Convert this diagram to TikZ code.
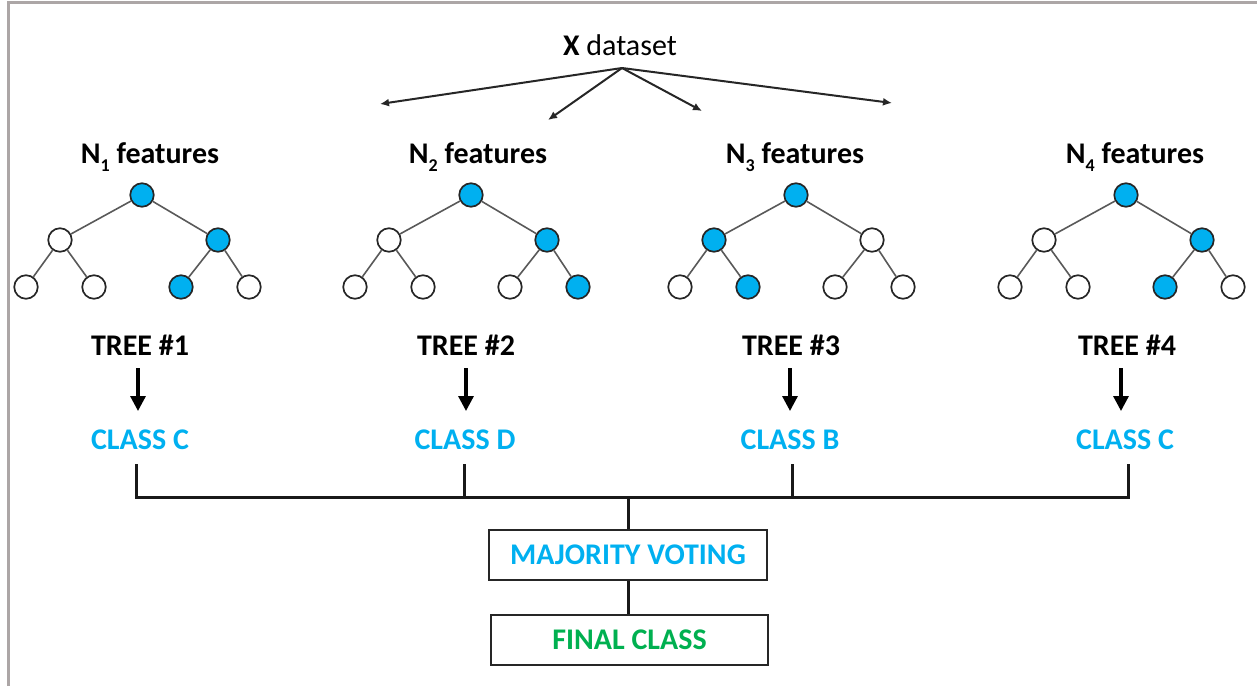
\documentclass[tikz,border=0pt]{standalone}
\usepackage{fontspec}
\setmainfont{Carlito}
\usetikzlibrary{arrows.meta}
\definecolor{cblue}{RGB}{0,176,240}
\definecolor{cgreen}{RGB}{0,176,80}
\definecolor{bord}{RGB}{172,166,166}
\newcommand{\subn}[1]{\raisebox{-0.28em}{\fontsize{18}{18}\selectfont #1}}
\begin{document}
\begin{tikzpicture}[x=1pt,y=-1pt,
  tn/.style={circle,draw=black!85,line width=1.7pt,minimum size=23.5pt,inner sep=0pt,fill=white},
  bn/.style={tn,fill=cblue},
  tedge/.style={draw=black!65,line width=1.6pt},
  lbl/.style={inner sep=0pt,font=\fontsize{30}{33}\selectfont\bfseries},
  clbl/.style={lbl,text=cblue},
  tarr/.style={draw=black!85,line width=2pt,-{Latex[length=9pt,width=8pt]}},
  darr/.style={draw=black,line width=3.2pt,-{Triangle[length=15pt,width=15pt]}},
  vote/.style={draw=black!90,line width=3pt,line cap=rect},
  boxst/.style={draw=black!85,line width=2.4pt,minimum width=278pt,minimum height=50pt,inner sep=0pt,font=\fontsize{30}{33}\selectfont\bfseries}
]
\useasboundingbox (0,0) rectangle (1257,686);
\draw[bord,line width=2.2pt] (8.5,686) -- (8.5,2.5) -- (1257,2.5);

% dataset and arrows
\node[inner sep=0pt,font=\fontsize{30}{33}\selectfont] (ds) at (620,45) {\textbf{X} dataset};
\coordinate (apex) at (622,68);
\coordinate (a1) at (380,104);
\coordinate (a2) at (548,120);
\coordinate (a3) at (702,111);
\coordinate (a4) at (892,103);
\foreach \k in {1,2,3,4} \draw[tarr] (apex) -- (a\k);

% trees
\foreach \i/\x/\fx/\tx/\ax/\cx/\jx/\cl/\a/\b/\c/\d/\e/\f in {
  1/142/150/140/138/140/136/C/tn/bn/tn/tn/bn/tn,
  2/471/478/466/466/465/464/D/tn/bn/tn/tn/tn/bn,
  3/796/795/791/790/790/792/B/bn/tn/tn/bn/tn/tn,
  4/1126/1135/1127/1121/1125/1128/C/tn/bn/tn/tn/bn/tn}{
  \node[bn] (r\i) at (\x,195) {};
  \node[\a] (l\i) at (\x-82,240) {};
  \node[\b] (q\i) at (\x+76,240) {};
  \node[\c] (la\i) at (\x-116,287) {};
  \node[\d] (lb\i) at (\x-48,287) {};
  \node[\e] (qa\i) at (\x+39,287) {};
  \node[\f] (qb\i) at (\x+107,287) {};
  \draw[tedge] (r\i) -- (l\i);
  \draw[tedge] (r\i) -- (q\i);
  \draw[tedge] (l\i) -- (la\i);
  \draw[tedge] (l\i) -- (lb\i);
  \draw[tedge] (q\i) -- (qa\i);
  \draw[tedge] (q\i) -- (qb\i);
  \node[lbl] (f\i) at (\fx,157) {N\subn{\i} features};
  \node[lbl] (t\i) at (\tx,345) {TREE \#\i};
  \node[clbl] (c\i) at (\cx,440) {CLASS \cl};
  \coordinate (ta\i) at (\ax,368);
  \coordinate (tb\i) at (\ax,411);
  \draw[darr] (ta\i) -- (tb\i);
  \coordinate (j\i) at (\jx,497);
  \coordinate (k\i) at (\jx,465);
  \draw[vote] (k\i) -- (j\i);
}
\draw[vote] (j1) -- (j4);
\coordinate (jm) at (628,497);
\node[boxst,text=cblue] (mv) at (628,555) {MAJORITY VOTING};
\node[boxst,text=cgreen,minimum width=277pt] (fc) at (629.5,640) {FINAL CLASS};
\draw[vote,line cap=butt] (jm) -- (mv.north);
\draw[vote,line cap=butt] (mv.south) -- (fc.north -| mv.south);
\end{tikzpicture}
\end{document}
